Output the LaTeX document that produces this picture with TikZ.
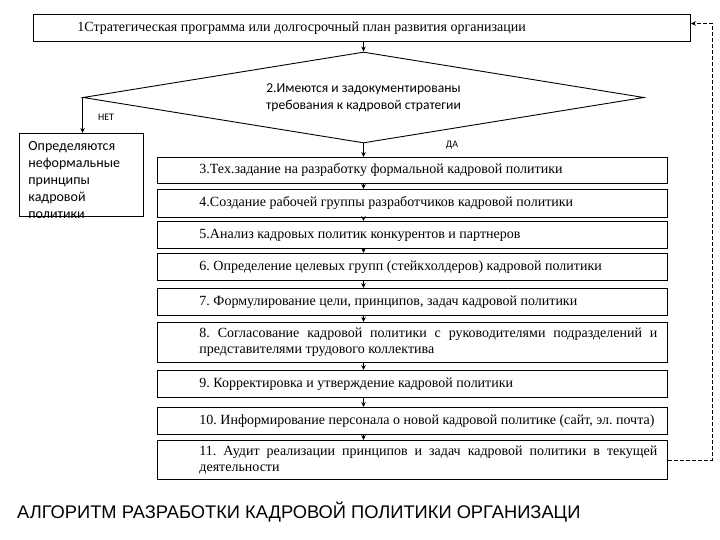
\documentclass[tikz,border=0pt]{standalone}
\usepackage{fontspec}
\setmainfont{Liberation Serif}
\newfontfamily\calibrifont{Carlito}
\newfontfamily\arialfont{Liberation Sans}
\usetikzlibrary{shapes.geometric,arrows.meta}
\frenchspacing

\tikzset{
    stage/.style={draw, line width=0.9bp, anchor=north west, inner xsep=0, inner ysep=0,
        text width=510bp, align=justify, minimum height=27bp,
        font=\fontsize{14bp}{16.5bp}\selectfont,
        execute at begin node={\parindent=0pt\leftskip=42bp\rightskip=10bp\hyphenpenalty=10000}},
    flow/.style={line width=0.9bp, -{Stealth[length=5bp,width=4.5bp]}},
    answer/.style={font=\calibrifont\fontsize{10bp}{12bp}\selectfont}
}

\begin{document}
\begin{tikzpicture}[x=1bp, y=-1bp]
    \useasboundingbox[fill=white] (0,0) rectangle (720,540);

    % Start and decision
    \node[stage, text width=657bp, execute at begin node={\leftskip=44bp}] (s1) at (33,14) {1Стратегическая программа или долгосрочный план развития организации};
    \node[draw, diamond, aspect=6.2, line width=0.9bp, inner sep=0, minimum width=561bp, minimum height=91bp, align=center, font=\calibrifont\fontsize{13.6bp}{16.5bp}\selectfont] (req) at (363.5,97.5) {2.Имеются и задокументированы\\требования к кадровой стратегии};
    \node[answer] (no) at (106,117) {НЕТ};
    \node[answer] (yes) at (452,145) {ДА};

    % Branch "no"
    \node[draw, line width=0.9bp, anchor=north west, inner sep=0, minimum width=124bp, font=\calibrifont\fontsize{14bp}{17bp}\selectfont] (informal) at (19,133) {
        \begin{minipage}[b][83bp][t]{106bp}
        \vspace*{8bp}Определяются\\неформальные\\принципы\\кадровой\\политики
        \end{minipage}
    };

    % Branch "yes"
    \node[stage, minimum height=26bp] (s3) at (157,157) {3.Тех.задание на разработку формальной кадровой политики};
    \node[stage, minimum height=28bp] (s4) at (157,189) {4.Создание рабочей группы разработчиков кадровой политики};
    \node[stage] (s5) at (157,221) {5.Анализ кадровых политик конкурентов и партнеров};
    \node[stage] (s6) at (157,253) {6. Определение целевых групп (стейкхолдеров) кадровой политики};
    \node[stage] (s7) at (157,288) {7. Формулирование цели, принципов, задач кадровой политики};
    \node[stage, minimum height=40bp] (s8) at (157,322) {8. Согласование кадровой политики с руководителями подразделений и\linebreak представителями трудового коллектива};
    \node[stage] (s9) at (157,370) {9. Корректировка и утверждение кадровой политики};
    \node[stage] (s10) at (157,407) {10. Информирование персонала о новой кадровой политике (сайт, эл. почта)};
    \node[stage, minimum height=39bp] (s11) at (157,440) {11. Аудит реализации принципов и задач кадровой политики в текущей\linebreak деятельности};

    \node[anchor=base west, inner sep=0, font=\arialfont\fontsize{18.3bp}{22bp}\selectfont] (title) at (17,518) {АЛГОРИТМ РАЗРАБОТКИ КАДРОВОЙ ПОЛИТИКИ ОРГАНИЗАЦИ};

    % Arrows
    \draw[flow] (s1.south -| req) -- (req.north);
    \draw[flow] (req.west) -- (req.west |- informal.north);
    \draw[flow] (req.south) -- (req.south |- s3.north);
    \draw[flow] (s3.south -| req) -- (s4.north -| req);
    \draw[flow] (s4.south -| req) -- (s5.north -| req);
    \draw[flow] (s5.south -| req) -- (s6.north -| req);
    \draw[flow] (s6.south -| req) -- (s7.north -| req);
    \draw[flow] (s7.south -| req) -- (s8.north -| req);
    \draw[flow] (s8.south -| req) -- (s9.north -| req);
    \draw[flow] (s9.south -| req) -- (s10.north -| req);
    \draw[flow] (s10.south -| req) -- (s11.north -| req);

    % Feedback loop
    \coordinate (loop) at (712,0);
    \draw[flow, dash pattern=on 4bp off 2bp] (s11.east) -- (s11.east -| loop) |- ([yshift=4.5bp]s1.east);
\end{tikzpicture}
\end{document}
